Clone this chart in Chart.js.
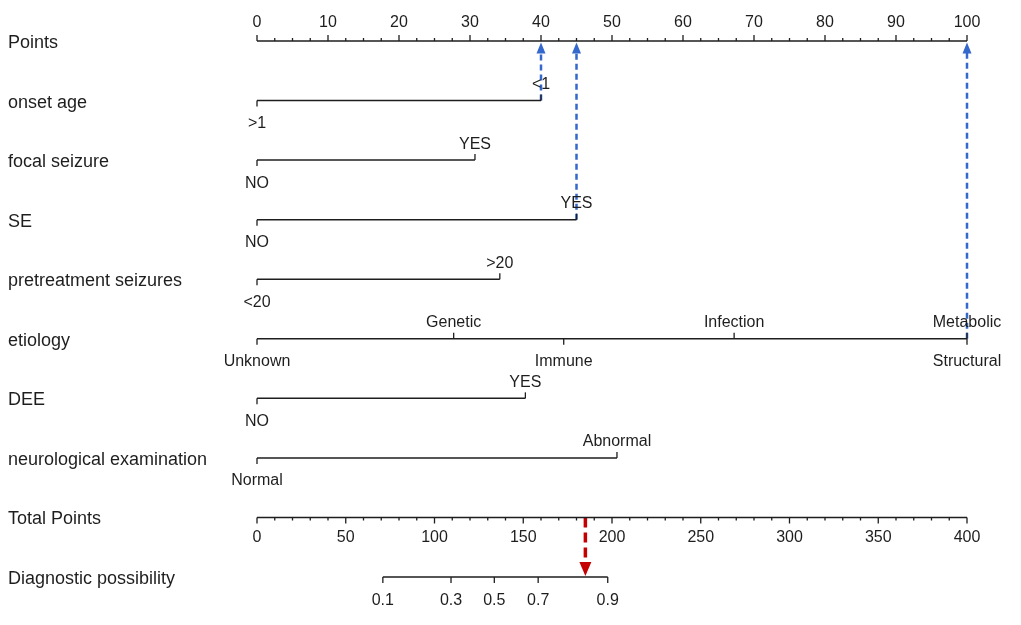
<!DOCTYPE html>
<html>
<head>
<meta charset="utf-8">
<script src="https://cdn.jsdelivr.net/npm/chart.js@4.4.1/dist/chart.umd.min.js"></script>
<style>
	body { margin: 0; background: #fff; }
	#wrap { width: 1021px; height: 625px; }
</style>
</head>
<body>
<div id="wrap"><canvas id="nomogram" width="1021" height="625"></canvas></div>
<script>
// row titles, top to bottom
var rowLabels = ['Points', 'onset age', 'focal seizure', 'SE', 'pretreatment seizures',
	'etiology', 'DEE', 'neurological examination', 'Total Points', 'Diagnostic possibility'];

var pointTicks = [0, 10, 20, 30, 40, 50, 60, 70, 80, 90, 100];

var onsetLevels = ['>1', '<1'];
var onsetPoints = [0, 40];
var focalLevels = ['NO', 'YES'];
var focalPoints = [0, 30.7];
var seLevels = ['NO', 'YES'];
var sePoints = [0, 45];
var pretreatLevels = ['<20', '>20'];
var pretreatPoints = [0, 34.2];
var etiologyLevels = ['Unknown', 'Genetic', 'Immune', 'Infection', 'Structural', 'Metabolic'];
var etiologyPoints = [0, 27.7, 43.2, 67.2, 100, 100];
var deeLevels = ['NO', 'YES'];
var deePoints = [0, 37.8];
var neuroLevels = ['Normal', 'Abnormal'];
var neuroPoints = [0, 50.7];

var totalTicks = [0, 50, 100, 150, 200, 250, 300, 350, 400];
var probLabels = ['0.1', '0.3', '0.5', '0.7', '0.9'];
var probTotalPoints = [70.9, 109.3, 133.7, 158.4, 197.6];

// example patient: onset <1, SE yes, structural etiology
var patientPoints = [40, 45, 100];
var patientRows = [1, 3, 5];
var patientTotal = 185;

var variables = [
	{ levels: onsetLevels, points: onsetPoints },
	{ levels: focalLevels, points: focalPoints },
	{ levels: seLevels, points: sePoints },
	{ levels: pretreatLevels, points: pretreatPoints },
	{ levels: etiologyLevels, points: etiologyPoints },
	{ levels: deeLevels, points: deePoints },
	{ levels: neuroLevels, points: neuroPoints }
];

var INK = '#1e1e1e';
var BLUE = '#3468cc';
var RED = '#c40000';
var FONT = '"Liberation Sans", Arial, sans-serif';

function segment(xa, xb, row, axisId) {
	return {
		data: [{ x: xa, y: row }, { x: xb, y: row }],
		xAxisID: axisId || 'x',
		showLine: true,
		borderColor: INK,
		borderWidth: 1.5,
		pointRadius: 0,
		clip: false
	};
}

function arrowShaft(xv, rowFrom, rowTo, color, width, dash, axisId) {
	return {
		data: [{ x: xv, y: rowFrom }, { x: xv, y: rowTo }],
		xAxisID: axisId || 'x',
		showLine: true,
		borderColor: color,
		borderWidth: width,
		borderDash: dash,
		pointRadius: 0,
		clip: false
	};
}

var datasets = [];
datasets.push(segment(pointTicks[0], pointTicks[pointTicks.length - 1], 0));
variables.forEach(function (v, i) {
	datasets.push(segment(Math.min.apply(null, v.points), Math.max.apply(null, v.points), i + 1));
});
datasets.push(segment(totalTicks[0], totalTicks[totalTicks.length - 1], 8, 'x2'));
datasets.push(segment(probTotalPoints[0], probTotalPoints[probTotalPoints.length - 1], 9, 'x2'));

patientPoints.forEach(function (p, i) {
	datasets.push(arrowShaft(p, patientRows[i], 0.2, BLUE, 2.5, [6, 4]));
});
datasets.push(arrowShaft(patientTotal, 8, 8.8, RED, 3.5, [10, 5], 'x2'));

function triangle(ctx, px, tipY, dir, half, len, color) {
	ctx.fillStyle = color;
	ctx.beginPath();
	ctx.moveTo(px, tipY);
	ctx.lineTo(px - half, tipY + dir * len);
	ctx.lineTo(px + half, tipY + dir * len);
	ctx.closePath();
	ctx.fill();
}

var nomogramPlugin = {
	id: 'nomogram',
	afterDatasetsDraw: function (chart) {
		var ctx = chart.ctx;
		var x = chart.scales.x, x2 = chart.scales.x2, y = chart.scales.y;
		var v, px;

		ctx.save();
		ctx.fillStyle = INK;
		ctx.strokeStyle = INK;
		ctx.lineWidth = 1.3;
		ctx.textBaseline = 'middle';

		// row titles
		ctx.font = '18px ' + FONT;
		ctx.textAlign = 'left';
		rowLabels.forEach(function (t, i) {
			ctx.fillText(t, 8, y.getPixelForValue(i) + 2);
		});

		// Points axis
		var y0 = y.getPixelForValue(0);
		ctx.beginPath();
		for (v = 0; v <= 100; v += 2.5) {
			px = x.getPixelForValue(v);
			ctx.moveTo(px, y0);
			ctx.lineTo(px, y0 - (pointTicks.indexOf(v) >= 0 ? 6 : 3));
		}
		ctx.stroke();
		ctx.font = '16px ' + FONT;
		ctx.textAlign = 'center';
		pointTicks.forEach(function (t) {
			ctx.fillText(String(t), x.getPixelForValue(t), y0 - 18);
		});

		// predictor rows
		variables.forEach(function (vr, i) {
			var py = y.getPixelForValue(i + 1);
			vr.levels.forEach(function (lab, j) {
				var p = x.getPixelForValue(vr.points[j]);
				var up = j % 2 === 1;
				ctx.beginPath();
				ctx.moveTo(p, py);
				ctx.lineTo(p, py + (up ? -6 : 6));
				ctx.stroke();
				ctx.fillText(lab, p, py + (up ? -16 : 23));
			});
		});

		// Total Points axis
		var y8 = y.getPixelForValue(8);
		ctx.beginPath();
		for (v = 0; v <= 400; v += 10) {
			px = x2.getPixelForValue(v);
			ctx.moveTo(px, y8);
			ctx.lineTo(px, y8 + (totalTicks.indexOf(v) >= 0 ? 6 : 3));
		}
		ctx.stroke();
		totalTicks.forEach(function (t) {
			ctx.fillText(String(t), x2.getPixelForValue(t), y8 + 20);
		});

		// Diagnostic possibility axis
		var y9 = y.getPixelForValue(9);
		ctx.beginPath();
		probTotalPoints.forEach(function (t) {
			px = x2.getPixelForValue(t);
			ctx.moveTo(px, y9);
			ctx.lineTo(px, y9 + 6);
		});
		ctx.stroke();
		probLabels.forEach(function (t, i) {
			ctx.fillText(t, x2.getPixelForValue(probTotalPoints[i]), y9 + 24);
		});

		// arrow heads
		patientPoints.forEach(function (p) {
			triangle(ctx, x.getPixelForValue(p), y0 + 1.5, 1, 4.5, 11, BLUE);
		});
		triangle(ctx, x2.getPixelForValue(patientTotal), y9 - 1, -1, 6, 14, RED);

		ctx.restore();
	}
};

new Chart(document.getElementById('nomogram'), {
	type: 'scatter',
	data: { datasets: datasets },
	options: {
		responsive: false,
		animation: false,
		events: [],
		layout: { padding: { left: 257, right: 54, top: 41, bottom: 48 } },
		scales: {
			x: { type: 'linear', min: 0, max: 100, display: false },
			x2: { type: 'linear', axis: 'x', position: 'bottom', min: 0, max: 400, display: false },
			y: { type: 'linear', min: 0, max: 9, reverse: true, display: false }
		},
		plugins: {
			legend: { display: false },
			tooltip: { enabled: false }
		}
	},
	plugins: [nomogramPlugin]
});
</script>
</body>
</html>
